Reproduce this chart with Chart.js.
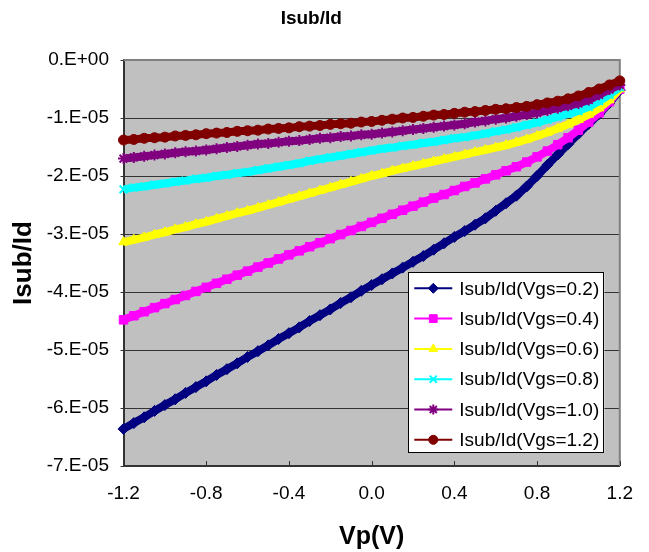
<!DOCTYPE html>
<html><head><meta charset="utf-8">
<script src="https://cdn.jsdelivr.net/npm/chart.js@4.4.1/dist/chart.umd.min.js"></script>
<style>html,body{margin:0;padding:0;background:#fff;}#wrap{width:649px;height:552px;}</style>
</head><body><div id="wrap"><canvas id="c" width="649" height="552"></canvas></div>
<script>
// Vp (V) sample points
const vp = [-1.20,-1.15,-1.10,-1.05,-1.00,-0.95,-0.90,-0.85,-0.80,-0.75,-0.70,-0.65,-0.60,-0.55,-0.50,-0.45,-0.40,-0.35,-0.30,-0.25,-0.20,-0.15,-0.10,-0.05,
  0.00,0.05,0.10,0.15,0.20,0.25,0.30,0.35,0.40,0.45,0.50,0.55,0.60,0.65,0.70,0.75,0.80,0.85,0.90,0.95,1.00,1.05,1.10,1.15,1.20];
// Isub/Id values in units of 1E-05
const vgs02 = [-6.36,-6.26,-6.16,-6.05,-5.95,-5.85,-5.74,-5.64,-5.54,-5.43,-5.33,-5.23,-5.12,-5.02,-4.92,-4.81,-4.71,-4.61,-4.50,-4.40,-4.30,-4.19,-4.09,-3.98,
  -3.88,-3.78,-3.68,-3.58,-3.48,-3.38,-3.27,-3.16,-3.05,-2.95,-2.84,-2.73,-2.60,-2.47,-2.34,-2.18,-2.00,-1.81,-1.63,-1.45,-1.27,-1.10,-0.93,-0.74,-0.52];
const vgs04 = [-4.48,-4.41,-4.34,-4.27,-4.20,-4.13,-4.06,-3.99,-3.92,-3.85,-3.78,-3.71,-3.64,-3.57,-3.50,-3.43,-3.36,-3.29,-3.22,-3.15,-3.08,-3.01,-2.94,-2.87,
  -2.80,-2.73,-2.66,-2.59,-2.52,-2.45,-2.38,-2.32,-2.25,-2.18,-2.12,-2.05,-1.98,-1.91,-1.84,-1.76,-1.67,-1.57,-1.46,-1.34,-1.21,-1.07,-0.91,-0.72,-0.50];
const vgs06 = [-3.14,-3.10,-3.06,-3.01,-2.97,-2.92,-2.88,-2.83,-2.79,-2.74,-2.69,-2.64,-2.60,-2.55,-2.50,-2.45,-2.40,-2.35,-2.30,-2.25,-2.20,-2.15,-2.10,-2.05,
  -2.00,-1.96,-1.91,-1.87,-1.83,-1.79,-1.75,-1.71,-1.67,-1.63,-1.59,-1.55,-1.51,-1.47,-1.42,-1.37,-1.31,-1.25,-1.18,-1.11,-1.03,-0.94,-0.83,-0.69,-0.50];
const vgs08 = [-2.23,-2.20,-2.18,-2.15,-2.13,-2.10,-2.08,-2.05,-2.03,-2.00,-1.98,-1.95,-1.93,-1.90,-1.87,-1.84,-1.81,-1.78,-1.74,-1.71,-1.68,-1.65,-1.62,-1.59,
  -1.56,-1.53,-1.51,-1.48,-1.46,-1.43,-1.41,-1.38,-1.35,-1.33,-1.30,-1.27,-1.23,-1.20,-1.16,-1.12,-1.08,-1.03,-0.98,-0.93,-0.88,-0.81,-0.71,-0.60,-0.47];
const vgs10 = [-1.70,-1.68,-1.66,-1.64,-1.62,-1.60,-1.58,-1.57,-1.55,-1.53,-1.51,-1.49,-1.47,-1.45,-1.44,-1.42,-1.40,-1.39,-1.37,-1.35,-1.34,-1.32,-1.31,-1.29,
  -1.28,-1.26,-1.24,-1.22,-1.20,-1.18,-1.16,-1.14,-1.12,-1.10,-1.07,-1.05,-1.02,-1.00,-0.97,-0.94,-0.91,-0.87,-0.83,-0.79,-0.75,-0.69,-0.60,-0.51,-0.43];
const vgs12 = [-1.38,-1.37,-1.35,-1.34,-1.33,-1.31,-1.30,-1.29,-1.27,-1.26,-1.25,-1.23,-1.22,-1.21,-1.19,-1.18,-1.17,-1.15,-1.14,-1.13,-1.11,-1.10,-1.09,-1.07,
  -1.06,-1.04,-1.02,-1.00,-0.99,-0.97,-0.95,-0.94,-0.92,-0.90,-0.89,-0.87,-0.85,-0.84,-0.82,-0.80,-0.77,-0.74,-0.71,-0.67,-0.62,-0.56,-0.50,-0.43,-0.36];
const seriesNames = ['Isub/Id(Vgs=0.2)','Isub/Id(Vgs=0.4)','Isub/Id(Vgs=0.6)','Isub/Id(Vgs=0.8)','Isub/Id(Vgs=1.0)','Isub/Id(Vgs=1.2)'];
const xTicks = [-1.2,-0.8,-0.4,0,0.4,0.8,1.2];
const xTickLabels = ['-1.2','-0.8','-0.4','0.0','0.4','0.8','1.2'];
const yTicks = [0,-1,-2,-3,-4,-5,-6,-7];
const yTickLabels = ['0.E+00','-1.E-05','-2.E-05','-3.E-05','-4.E-05','-5.E-05','-6.E-05','-7.E-05'];

const seriesValues = [vgs02,vgs04,vgs06,vgs08,vgs10,vgs12];
const colors = ['#000080','#FF00FF','#FFFF00','#00FFFF','#800080','#800000'];
const styles = [
  {pointStyle:'rectRot', pointRadius:5.5, pointBorderWidth:1},
  {pointStyle:'rect', pointRadius:6, pointBorderWidth:1},
  {pointStyle:'triangle', pointRadius:5.5, pointBorderWidth:1},
  {pointStyle:'crossRot', pointRadius:5.5, pointBorderWidth:2},
  {pointStyle:'star', pointRadius:5.5, pointBorderWidth:2},
  {pointStyle:'circle', pointRadius:5, pointBorderWidth:1}
];
const legendRadius = [5, 5.5, 5, 5, 5, 4.5];
const FONT = '"Liberation Sans", Arial, sans-serif';

const datasets = seriesValues.map((vals,i) => Object.assign({
  label: seriesNames[i],
  data: vals.map((v,k) => ({x: vp[k], y: v})),
  borderColor: colors[i],
  backgroundColor: colors[i],
  pointBackgroundColor: colors[i],
  pointBorderColor: colors[i],
  borderWidth: 8,
  showLine: true,
  clip: false,
  order: 5 - i
}, styles[i]));

const bgPlugin = {
  id: 'plotBg',
  beforeDraw(chart) {
    const {ctx, chartArea: a} = chart;
    ctx.save();
    ctx.fillStyle = '#C0C0C0';
    ctx.fillRect(a.left, a.top, a.right - a.left, a.bottom - a.top);
    ctx.restore();
  },
  beforeDatasetsDraw(chart) {
    const {ctx, chartArea: a} = chart;
    ctx.save();
    ctx.strokeStyle = '#808080';
    ctx.lineWidth = 2;
    ctx.beginPath();
    ctx.moveTo(a.left, a.top); ctx.lineTo(a.right, a.top); ctx.lineTo(a.right, a.bottom);
    ctx.stroke();
    // inner tick marks on x axis
    const xs = chart.scales.x;
    ctx.strokeStyle = '#333';
    ctx.lineWidth = 1;
    xTicks.forEach(v => {
      const px = Math.round(xs.getPixelForValue(v)) + 0.5;
      ctx.beginPath(); ctx.moveTo(px, a.bottom); ctx.lineTo(px, a.bottom - 5); ctx.stroke();
    });
    ctx.restore();
  }
};

const legendPlugin = {
  id: 'boxLegend',
  afterDatasetsDraw(chart) {
    const {ctx, chartArea: a} = chart;
    const w = 196, h = 181;
    const x0 = a.right - 15.5 - w, y0 = a.bottom - 13 - h;
    ctx.save();
    ctx.fillStyle = '#fff';
    ctx.fillRect(x0, y0, w, h);
    ctx.strokeStyle = '#000';
    ctx.lineWidth = 1;
    ctx.strokeRect(Math.round(x0) + 0.5, Math.round(y0) + 0.5, w - 1, h - 1);
    chart.data.datasets.forEach((ds, i) => {
      const cy = y0 + 16.3 + i * 30.3;
      ctx.strokeStyle = ds.borderColor;
      ctx.lineWidth = 2;
      ctx.beginPath(); ctx.moveTo(x0 + 6, cy); ctx.lineTo(x0 + 44, cy); ctx.stroke();
      ctx.fillStyle = ds.backgroundColor;
      ctx.strokeStyle = ds.borderColor;
      ctx.lineWidth = ds.pointBorderWidth;
      Chart.helpers.drawPoint(ctx, {pointStyle: ds.pointStyle, radius: legendRadius[i], borderWidth: ds.pointBorderWidth, rotation: 0}, x0 + 25, cy);
      ctx.fillStyle = '#000';
      ctx.font = '19px ' + FONT;
      ctx.textBaseline = 'middle';
      ctx.textAlign = 'left';
      ctx.fillText(ds.label, x0 + 51, cy + 1);
    });
    ctx.restore();
  }
};

new Chart(document.getElementById('c'), {
  type: 'scatter',
  data: { datasets },
  plugins: [bgPlugin, legendPlugin],
  options: {
    responsive: false,
    animation: false,
    devicePixelRatio: 1,
    layout: { padding: { left: 0, right: 26.5, top: 0, bottom: 0 } },
    plugins: {
      legend: { display: false },
      tooltip: { enabled: false },
      title: {
        display: true, text: 'Isub/Id', color: '#000',
        font: { family: FONT, size: 19, weight: 'bold' },
        padding: { top: 7, bottom: 30.2 }
      }
    },
    scales: {
      x: {
        type: 'linear', min: -1.2, max: 1.2,
        afterBuildTicks: s => { s.ticks = xTicks.map(v => ({value: v})); },
        afterFit: s => { s.height = 86; },
        ticks: {
          color: '#000', padding: 16, maxRotation: 0, autoSkip: false,
          font: { family: FONT, size: 19 },
          callback: (v) => xTickLabels[xTicks.findIndex(t => Math.abs(t - v) < 1e-9)]
        },
        grid: { display: true, drawOnChartArea: false, drawTicks: false },
        border: { display: true, color: '#333', width: 2 },
        title: {
          display: true, text: 'Vp(V)', color: '#000',
          font: { family: FONT, size: 25, weight: 'bold' },
          padding: { top: 0, bottom: 0 }
        }
      },
      y: {
        type: 'linear', min: -7, max: 0,
        afterBuildTicks: s => { s.ticks = yTicks.map(v => ({value: v})); },
        afterFit: s => { s.width = 123.5; },
        ticks: {
          color: '#000', padding: 11.5, autoSkip: false,
          font: { family: FONT, size: 19 },
          callback: (v) => yTickLabels[yTicks.findIndex(t => Math.abs(t - v) < 1e-9)]
        },
        grid: {
          color: (c) => (c.tick && c.tick.value === 0) ? 'rgba(0,0,0,0)' : '#333',
          tickColor: '#333',
          lineWidth: 1, tickLength: 3
        },
        border: { display: true, color: '#333', width: 2 },
        title: {
          display: true, text: 'Isub/Id', color: '#000',
          font: { family: FONT, size: 26, weight: 'bold' },
          padding: { top: 8.4, bottom: 0 }
        }
      }
    }
  }
});
</script></body></html>
